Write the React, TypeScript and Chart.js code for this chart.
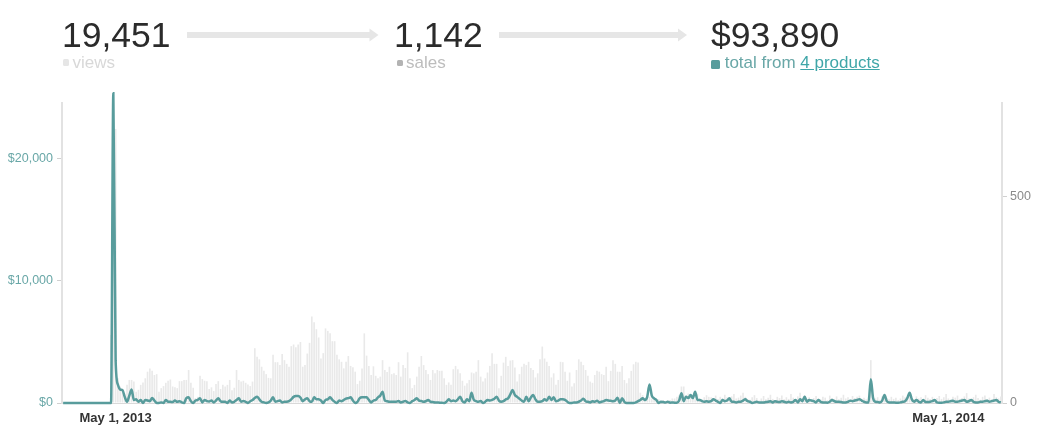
import React, { useEffect, useRef } from 'react';
import { Chart, registerables } from 'chart.js';

Chart.register(...registerables);

// ---- data ----
const START_YEAR = 2013;
const START_MONTH = 3; // April (0-based)
const START_DAY = 8;
const MONTH_NAMES = ['Jan', 'Feb', 'Mar', 'Apr', 'May', 'Jun', 'Jul', 'Aug', 'Sep', 'Oct', 'Nov', 'Dec'];
const X_TICK_LABELS = ['May 1, 2013', 'May 1, 2014'];
const LEFT_TICKS = [0, 10000, 20000];
const RIGHT_TICKS = [0, 500];

const VIEWS = [
  0, 0, 0, 0, 0, 0, 0, 0, 0, 0,
  0, 0, 0, 0, 0, 0, 0, 0, 0, 0,
  0, 165, 450, 665, 60, 40, 30, 23, 44, 56,
  56, 52, 27, 32, 44, 50, 60, 76, 84, 78,
  68, 70, 27, 36, 41, 49, 54, 57, 40, 38,
  36, 53, 53, 56, 56, 80, 49, 37, 12, 15,
  66, 58, 54, 53, 34, 38, 29, 46, 53, 34,
  44, 40, 44, 56, 31, 37, 80, 56, 52, 54,
  49, 45, 41, 52, 133, 112, 106, 88, 78, 70,
  61, 60, 117, 99, 99, 92, 119, 104, 95, 88,
  138, 142, 135, 142, 148, 88, 92, 120, 146, 210,
  196, 179, 159, 108, 121, 181, 175, 169, 150, 150,
  117, 106, 100, 84, 100, 114, 90, 87, 76, 46,
  54, 84, 169, 115, 90, 68, 89, 66, 60, 64,
  104, 80, 75, 88, 70, 72, 68, 99, 64, 92,
  85, 123, 60, 36, 44, 64, 88, 114, 92, 80,
  70, 56, 80, 72, 80, 78, 78, 60, 44, 50,
  44, 82, 90, 82, 72, 54, 42, 48, 56, 74,
  72, 76, 104, 64, 52, 60, 74, 90, 121, 95,
  95, 36, 66, 98, 112, 90, 103, 104, 86, 52,
  70, 88, 95, 92, 100, 85, 80, 62, 72, 106,
  137, 108, 100, 90, 62, 72, 44, 56, 100, 99,
  76, 54, 74, 40, 48, 80, 106, 100, 92, 80,
  66, 52, 49, 68, 78, 76, 70, 68, 88, 53,
  78, 104, 95, 76, 76, 90, 56, 48, 60, 78,
  94, 100, 98, 25, 19, 7, 15, 15, 11, 10,
  6, 9, 3, 7, 3, 6, 7, 11, 11, 15,
  19, 40, 40, 19, 23, 15, 11, 9, 23, 11,
  9, 14, 19, 15, 14, 12, 18, 10, 15, 12,
  20, 14, 9, 16, 22, 11, 13, 18, 25, 15,
  10, 8, 14, 19, 12, 6, 11, 17, 9, 13,
  20, 10, 7, 15, 12, 18, 9, 14, 10, 22,
  13, 8, 16, 25, 12, 19, 10, 14, 8, 12,
  17, 11, 9, 15, 13, 7, 18, 12, 10, 16,
  9, 13, 20, 11, 14, 8, 17, 12, 15, 18,
  10, 13, 9, 15, 104, 20, 11, 14, 8, 16,
  22, 12, 9, 15, 10, 13, 7, 11, 18, 14,
  10, 20, 12, 9, 16, 11, 14, 8, 19, 13,
  10, 15, 9, 12, 17, 10, 14, 22, 11, 8,
  15, 13, 18, 10, 12, 16, 24, 11, 9, 14,
  20, 12, 8, 15, 18, 10, 13, 9, 22, 14,
  11, 16,
];

const REVENUE = [
  0, 0, 0, 0, 0, 0, 0, 0, 0, 0,
  0, 0, 0, 0, 0, 0, 0, 0, 0, 0,
  0, 0, 25300, 3500, 1500, 1100, 1050, 500, 100, 600,
  1100, 250, 300, 100, 250, 0, 250, 200, 150, 400,
  200, 0, 0, 50, 0, 250, 100, 100, 80, 200,
  100, 150, 50, 0, 400, 460, 150, 0, 200, 250,
  380, 50, 250, 150, 120, 200, 50, 200, 380, 150,
  100, 100, 0, 200, 50, 100, 250, 380, 100, 160,
  100, 0, 150, 250, 400, 520, 300, 100, 50, 0,
  50, 200, 460, 100, 150, 200, 50, 100, 100, 150,
  300, 500, 570, 570, 450, 150, 300, 380, 150, 100,
  460, 300, 300, 200, 0, 250, 300, 460, 250, 100,
  0, 200, 150, 250, 350, 400, 460, 200, 0, 100,
  400, 460, 460, 460, 250, 50, 200, 245, 460, 600,
  925, 200, 150, 100, 100, 100, 100, 160, 50, 100,
  160, 50, 0, 150, 245, 380, 200, 160, 100, 150,
  245, 100, 80, 50, 50, 30, 20, 0, 100, 300,
  150, 200, 150, 300, 515, 150, 50, 300, 150, 840,
  250, 150, 100, 160, 0, 100, 250, 200, 250, 350,
  515, 200, 100, 150, 300, 380, 700, 1060, 650, 500,
  350, 200, 100, 515, 150, 450, 650, 300, 100, 100,
  150, 300, 200, 515, 250, 460, 150, 200, 300, 300,
  250, 100, 0, 0, 50, 50, 100, 200, 350, 150,
  100, 50, 150, 100, 190, 50, 100, 150, 245, 200,
  180, 150, 200, 435, 0, 380, 100, 0, 0, 0,
  0, 50, 150, 245, 380, 250, 500, 1520, 600, 380,
  250, 0, 100, 80, 50, 100, 30, 50, 30, 30,
  200, 790, 150, 515, 400, 650, 400, 925, 250, 250,
  150, 100, 150, 100, 150, 300, 200, 100, 0, 245,
  150, 200, 380, 100, 100, 50, 100, 100, 200, 300,
  150, 100, 0, 50, 100, 50, 50, 50, 80, 100,
  150, 50, 150, 100, 80, 150, 100, 50, 100, 50,
  100, 245, 50, 300, 150, 520, 100, 245, 200, 150,
  50, 245, 100, 50, 50, 30, 100, 245, 150, 100,
  100, 80, 50, 50, 100, 190, 150, 200, 250, 300,
  200, 100, 50, 50, 1930, 400, 100, 80, 50, 200,
  650, 150, 50, 50, 50, 30, 30, 50, 100, 150,
  400, 840, 300, 100, 245, 100, 50, 245, 80, 80,
  100, 150, 245, 50, 30, 30, 50, 100, 100, 150,
  190, 100, 100, 150, 200, 245, 100, 150, 245, 100,
  50, 50, 100, 100, 150, 190, 100, 150, 200, 245,
  100, 50,
];

const HEADER_VIEWS = '19,451';
const HEADER_SALES = '1,142';
const HEADER_TOTAL = '$93,890';

// ---- styles ----
const FONT = "'Liberation Sans', Arial, Helvetica, sans-serif";
const TEAL = '#589c9c';
const TEAL_TEXT = '#69a7a7';
const LINK = '#3fa6a8';
const BAR = '#e9e9e9';

function buildLabels(n: number): string[] {
  const out: string[] = [];
  for (let i = 0; i < n; i++) {
    const d = new Date(Date.UTC(START_YEAR, START_MONTH, START_DAY + i));
    out.push(`${MONTH_NAMES[d.getUTCMonth()]} ${d.getUTCDate()}, ${d.getUTCFullYear()}`);
  }
  return out;
}

function Arrow({ x1, x2, y }: { x1: number; x2: number; y: number }) {
  return (
    <g fill="#e6e6e6">
      <rect x={x1} y={y - 3} width={x2 - x1 - 8} height={6} />
      <polygon points={`${x2 - 9},${y - 6.5} ${x2},${y} ${x2 - 9},${y + 6.5}`} />
    </g>
  );
}

export default function App() {
  const canvasRef = useRef<HTMLCanvasElement | null>(null);

  useEffect(() => {
    const canvas = canvasRef.current;
    if (!canvas) return;
    const labels = buildLabels(VIEWS.length);
    const chart = new Chart(canvas, {
      type: 'bar',
      data: {
        labels,
        datasets: [
          {
            type: 'line',
            label: 'revenue',
            data: REVENUE,
            yAxisID: 'yL',
            borderColor: TEAL,
            borderWidth: 2.5,
            pointRadius: 0,
            cubicInterpolationMode: 'monotone',
            fill: false,
            order: 0,
            clip: false,
          } as any,
          {
            type: 'bar',
            label: 'views',
            data: VIEWS,
            yAxisID: 'yR',
            backgroundColor: BAR,
            barPercentage: 0.72,
            categoryPercentage: 1,
            order: 1,
          },
        ],
      },
      options: {
        responsive: false,
        animation: false,
        devicePixelRatio: 1,
        layout: { padding: { top: 103, left: 0, right: 0, bottom: 0 } },
        plugins: { legend: { display: false }, tooltip: { enabled: false } },
        scales: {
          x: {
            type: 'category',
            offset: true,
            grid: { display: false, drawTicks: false },
            border: { display: true, color: '#d9d9d9', width: 1 },
            ticks: {
              autoSkip: false,
              maxRotation: 0,
              minRotation: 0,
              padding: 8,
              color: '#333333',
              font: { family: FONT, size: 13, weight: 'bold' },
            },
            afterBuildTicks: (s: any) => {
              s.ticks = s.ticks.filter((t: any) => X_TICK_LABELS.includes(labels[t.value]));
            },
            afterFit: (s: any) => {
              s.height = 35;
            },
          },
          yL: {
            type: 'linear',
            position: 'left',
            min: 0,
            max: 24500,
            grid: { display: true, drawOnChartArea: false, drawTicks: true, tickLength: 5, color: '#d0d0d0' },
            border: { display: true, color: '#e2e2e2', width: 2 },
            ticks: {
              padding: 4,
              color: TEAL_TEXT,
              font: { family: FONT, size: 12.5 },
              callback: (v: any) => '$' + Number(v).toLocaleString('en-US'),
            },
            afterBuildTicks: (s: any) => {
              s.ticks = LEFT_TICKS.map((v) => ({ value: v }));
            },
            afterFit: (s: any) => {
              s.width = 62;
            },
          },
          yR: {
            type: 'linear',
            position: 'right',
            min: 0,
            max: 728,
            grid: { display: true, drawOnChartArea: false, drawTicks: true, tickLength: 5, color: '#d0d0d0' },
            border: { display: true, color: '#e2e2e2', width: 2 },
            ticks: {
              padding: 3,
              color: '#8a8a8a',
              font: { family: FONT, size: 12.5 },
              callback: (v: any) => String(v),
            },
            afterBuildTicks: (s: any) => {
              s.ticks = RIGHT_TICKS.map((v) => ({ value: v }));
            },
            afterFit: (s: any) => {
              s.width = 47;
            },
          },
        },
      } as any,
    });
    return () => chart.destroy();
  }, []);

  const big: React.CSSProperties = {
    position: 'absolute',
    top: 17.5,
    fontFamily: FONT,
    fontSize: 35.5,
    lineHeight: '35.5px',
    color: '#2b2b2b',
    whiteSpace: 'nowrap',
    zIndex: 2,
  };
  const small: React.CSSProperties = {
    position: 'absolute',
    top: 54,
    fontFamily: FONT,
    fontSize: 17,
    lineHeight: '17px',
    whiteSpace: 'nowrap',
    zIndex: 2,
  };
  const sq = (left: number, top: number, size: number, color: string): React.CSSProperties => ({
    position: 'absolute',
    left,
    top,
    width: size,
    height: size,
    background: color,
    borderRadius: 1.5,
    zIndex: 2,
  });

  return (
    <div style={{ position: 'fixed', left: 0, top: 0, width: 1049, height: 438, background: '#ffffff', overflow: 'hidden' }}>
      <canvas ref={canvasRef} width={1049} height={438} style={{ position: 'absolute', left: 0, top: 0, width: 1049, height: 438, zIndex: 1 }} />
      <svg width={1049} height={60} style={{ position: 'absolute', left: 0, top: 0, zIndex: 2 }}>
        <Arrow x1={187} x2={378.5} y={35} />
        <Arrow x1={499} x2={687} y={35} />
      </svg>
      <div style={{ ...big, left: 62 }}>{HEADER_VIEWS}</div>
      <div style={{ ...big, left: 394 }}>{HEADER_SALES}</div>
      <div style={{ ...big, left: 711 }}>{HEADER_TOTAL}</div>

      <div style={sq(62.5, 59, 6.5, '#e6e6e6')} />
      <div style={{ ...small, left: 72.5, color: '#d8d8d8' }}>views</div>

      <div style={sq(396.5, 59.5, 6.5, '#b3b3b3')} />
      <div style={{ ...small, left: 406, color: '#bdbdbd' }}>sales</div>

      <div style={sq(711, 60, 8.5, TEAL)} />
      <div style={{ ...small, left: 724.7, color: TEAL_TEXT }}>
        total from{' '}
        <a href="#" style={{ color: LINK, textDecoration: 'underline' }}>
          4 products
        </a>
      </div>
    </div>
  );
}
